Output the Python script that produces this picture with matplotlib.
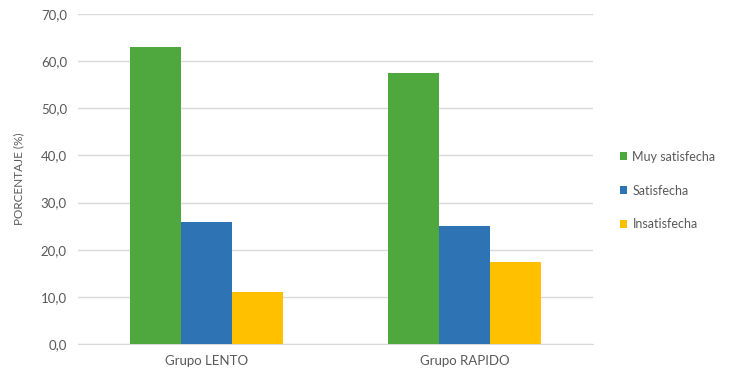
import numpy as np
import matplotlib.pyplot as plt

plt.rcParams['font.family'] = ['Lato', 'DejaVu Sans']

groups = ['Grupo LENTO', 'Grupo RAPIDO']
series = ['Muy satisfecha', 'Satisfecha', 'Insatisfecha']
muy_satisfecha = [62.9, 57.5]
satisfecha = [25.9, 25.0]
insatisfecha = [11.1, 17.5]
colors = ['#4EA83D', '#2E74B5', '#FFC000']

fig = plt.figure(figsize=(7.36, 3.76), dpi=100)
ax = fig.add_axes([0.106, 0.085, 0.700, 0.878])

x = np.arange(len(groups))
w = 0.198
for i, (vals, name) in enumerate(zip([muy_satisfecha, satisfecha, insatisfecha], series)):
    ax.bar(x + (i - 1) * w, vals, w, color=colors[i], label=name, zorder=3)

ax.set_xlim(-0.5, 1.5)
ax.set_ylim(0, 70)
ax.set_yticks(np.arange(0, 71, 10))
ax.set_yticklabels([f'{v:.1f}'.replace('.', ',') for v in np.arange(0, 71, 10)])
ax.set_xticks(x)
ax.set_xticklabels(groups)
ax.grid(axis='y', color='#D9D9D9', linewidth=1, zorder=0)
for s in ['top', 'right', 'left']:
    ax.spines[s].set_visible(False)
ax.spines['bottom'].set_color('#D9D9D9')
ax.tick_params(length=0, labelsize=9.5, colors='#595959', pad=8)
ax.set_ylabel('PORCENTAJE (%)', fontsize=8.5, color='#595959', labelpad=12)

ax.legend(loc='center left', bbox_to_anchor=(1.03, 0.465), frameon=False,
          fontsize=9, labelcolor='#595959', handlelength=0.6, handleheight=0.6,
          handletextpad=0.4, labelspacing=1.75)

fig.savefig('out.png', dpi=100)
